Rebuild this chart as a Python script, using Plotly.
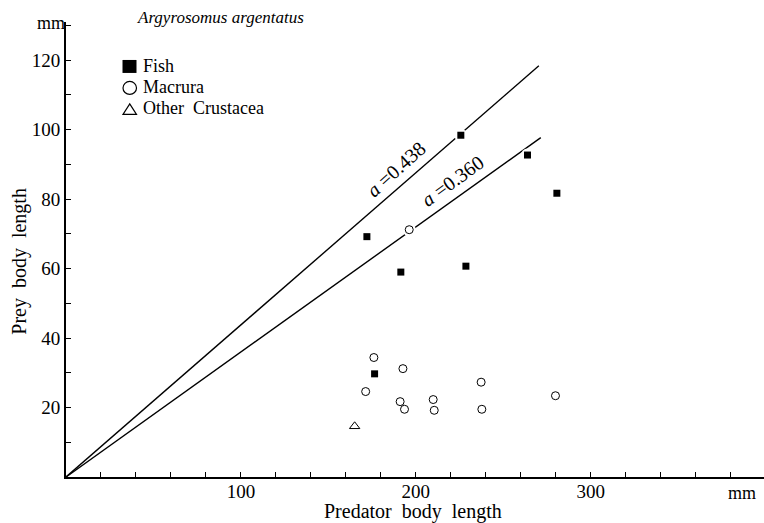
import plotly.graph_objects as go

# ---- data (mm) ----
fish_x = [172.0, 225.7, 263.8, 280.6, 191.4, 228.6, 176.4]
fish_y = [69.2, 98.4, 92.7, 81.7, 59.0, 60.7, 29.7]

macrura_x = [196.2, 176.0, 192.6, 171.3, 191.0, 193.5, 209.9, 210.5, 237.3, 237.7, 279.8]
macrura_y = [71.2, 34.4, 31.2, 24.6, 21.7, 19.5, 22.3, 19.2, 27.3, 19.5, 23.4]

other_x = [165.0]
other_y = [14.6]

line_a = [0.438, 0.360]
line_xmax = [270.3, 271.4]
line_labels = ["<i>a</i> =0.438", "<i>a</i> =0.360"]

x_ticks = [100, 200, 300]
y_ticks = [20, 40, 60, 80, 100, 120]

legend_names = ["Fish", "Macrura", "Other\u00a0 Crustacea"]

W, H = 764, 523
ML, MR, MT, MB = 66, 0, 22, 45.5
XMAX, YMAX = 399, 131

def px(xp):
    return (xp - ML) / (W - ML - MR)

def py(yp):
    return (H - MB - yp) / (H - MT - MB)

SERIF = "Liberation Serif, Times New Roman, serif"

fig = go.Figure()

# reference lines
for a, xm in zip(line_a, line_xmax):
    fig.add_trace(go.Scatter(x=[0, xm], y=[0, a * xm], mode="lines",
                             line=dict(color="black", width=1.4),
                             showlegend=False, hoverinfo="skip"))

# white halos to break lines around markers
all_x = fish_x + macrura_x + other_x
all_y = fish_y + macrura_y + other_y
fig.add_trace(go.Scatter(x=all_x, y=all_y, mode="markers",
                         marker=dict(symbol="circle", size=13, color="white"),
                         showlegend=False, hoverinfo="skip"))

fig.add_trace(go.Scatter(x=fish_x, y=fish_y, mode="markers", name="Fish",
                         marker=dict(symbol="square", size=7, color="black"),
                         showlegend=False))
fig.add_trace(go.Scatter(x=macrura_x, y=macrura_y, mode="markers", name="Macrura",
                         marker=dict(symbol="circle-open", size=8, color="black",
                                     line=dict(width=1)),
                         showlegend=False))
fig.add_trace(go.Scatter(x=other_x, y=other_y, mode="markers", name="Other Crustacea",
                         marker=dict(symbol="triangle-up-open", size=9, color="black",
                                     line=dict(width=1)),
                         showlegend=False))

annotations = []
# line labels
annotations.append(dict(x=188.6, y=88.8, xref="x", yref="y", text=line_labels[0],
                        showarrow=False, textangle=-42, xanchor="center", yanchor="middle",
                        font=dict(family=SERIF, size=20, color="black")))
annotations.append(dict(x=220.8, y=85.2, xref="x", yref="y", text=line_labels[1],
                        showarrow=False, textangle=-36, xanchor="center", yanchor="middle",
                        font=dict(family=SERIF, size=20, color="black")))

# title
annotations.append(dict(x=px(135), y=py(17), xref="paper", yref="paper",
                        xanchor="left", yanchor="middle", showarrow=False,
                        text="<i>Argyrosomus argentatus</i>",
                        font=dict(family=SERIF, size=17, color="black")))

# legend text
for i, t in enumerate(legend_names):
    annotations.append(dict(x=px(141), y=py(66.5 + 21 * i), xref="paper", yref="paper",
                            xanchor="left", yanchor="middle", showarrow=False,
                            text=t, font=dict(family=SERIF, size=18, color="black")))

# axis titles and units
annotations.append(dict(x=px(413), y=py(512), xref="paper", yref="paper",
                        xanchor="center", yanchor="middle",
                        showarrow=False, text="Predator\u00a0 body\u00a0 length",
                        font=dict(family=SERIF, size=20, color="black")))
annotations.append(dict(x=px(20), y=py(262), xref="paper", yref="paper",
                        xanchor="center", yanchor="middle",
                        showarrow=False, text="Prey\u00a0 body\u00a0 length", textangle=-90,
                        font=dict(family=SERIF, size=20, color="black")))
annotations.append(dict(x=px(51), y=py(23), xref="paper", yref="paper",
                        xanchor="center", yanchor="middle",
                        showarrow=False, text="mm",
                        font=dict(family=SERIF, size=18, color="black")))
annotations.append(dict(x=px(742), y=py(494), xref="paper", yref="paper",
                        xanchor="center", yanchor="middle",
                        showarrow=False, text="mm",
                        font=dict(family=SERIF, size=18, color="black")))

# legend symbols (drawn as shapes in paper space)
shapes = [
    dict(type="rect", xref="paper", yref="paper",
         x0=px(122.5), x1=px(136.5), y0=py(73), y1=py(60),
         fillcolor="black", line=dict(color="black", width=0)),
    dict(type="circle", xref="paper", yref="paper",
         x0=px(123), x1=px(136.5), y0=py(94.5), y1=py(81.5),
         fillcolor="rgba(0,0,0,0)", line=dict(color="black", width=1.2)),
    dict(type="path", xref="paper", yref="paper",
         path="M {a},{b} L {c},{b} L {d},{e} Z".format(a=px(123), b=py(114.5), c=px(136.5),
                                                     d=px(129.75), e=py(104)),
         fillcolor="rgba(0,0,0,0)", line=dict(color="black", width=1.2)),
]

fig.update_layout(
    width=W, height=H,
    margin=dict(l=ML, r=MR, t=MT, b=MB, pad=0),
    paper_bgcolor="white", plot_bgcolor="white",
    showlegend=False,
    annotations=annotations,
    shapes=shapes,
    xaxis=dict(range=[0, XMAX], showgrid=False, zeroline=False,
               showline=True, linecolor="black", linewidth=1.8,
               ticks="inside", ticklen=5, tickwidth=1.2, tickcolor="black",
               tickvals=x_ticks, ticktext=[str(v) for v in x_ticks],
               tickfont=dict(family=SERIF, size=19, color="black"),
               ticklabelstandoff=-4,
               minor=dict(dtick=20, ticks="inside", ticklen=5, tickwidth=1.2,
                          tickcolor="black", showgrid=False)),
    yaxis=dict(range=[0, YMAX], showgrid=False, zeroline=False,
               showline=True, linecolor="black", linewidth=1.8,
               ticks="inside", ticklen=5, tickwidth=1.2, tickcolor="black",
               tickvals=y_ticks, ticktext=[str(v) for v in y_ticks],
               tickfont=dict(family=SERIF, size=19, color="black"),
               ticklabelstandoff=0,
               minor=dict(dtick=10, ticks="inside", ticklen=5, tickwidth=1.2,
                          tickcolor="black", showgrid=False)),
)

fig.write_html("out.html",
               config={"displayModeBar": False},
               post_script="document.body.style.margin='0';document.body.style.padding='0';")
